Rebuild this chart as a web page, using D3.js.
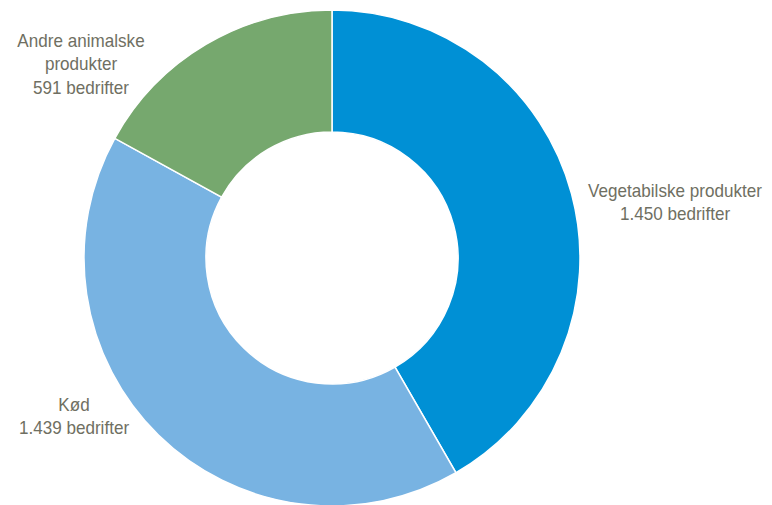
<!DOCTYPE html>
<html>
<head>
<meta charset="utf-8">
<script src="https://cdn.jsdelivr.net/npm/d3@7"></script>
<style>
  body { margin: 0; background: #fff; }
  text { font-family: "Liberation Sans", Arial, sans-serif; fill: #6f6f62; font-size: 18px; }
</style>
</head>
<body>
<div id="wrapper"></div>
<script>
  // data
  const categories = ["Vegetabilske produkter", "Kød", "Andre animalske produkter"]
  const values = [1450, 1439, 591]
  const colors = ["#0090d5", "#78b3e2", "#76a86e"]
  // label lines
  const labelLines = [
    ["Vegetabilske produkter", "1.450 bedrifter"],
    ["Kød", "1.439 bedrifter"],
    ["Andre animalske", "produkter", "591 bedrifter"]
  ]

  const width = 772, height = 505
  const cx = 332, cy = 258
  const outerR = 248, innerR = 126

  const svg = d3.select("#wrapper").append("svg")
      .attr("width", width)
      .attr("height", height)

  const data = categories.map((c, i) => ({ name: c, value: values[i], color: colors[i], lines: labelLines[i] }))

  const pie = d3.pie().sort(null).value(d => d.value)
  const arc = d3.arc().innerRadius(innerR).outerRadius(outerR)

  const g = svg.append("g").attr("transform", `translate(${cx},${cy})`)

  g.selectAll("path")
    .data(pie(data))
    .join("path")
      .attr("d", arc)
      .attr("fill", d => d.data.color)
      .attr("stroke", "#fff")
      .attr("stroke-width", 1.5)

  // labels placed outside the ring (narrow look via scaleX)
  const labelPos = [
    { x: 675, y: 197 },
    { x: 74, y: 411 },
    { x: 81, y: 47 }
  ]
  const lineH = 23.5
  const squeeze = 0.95

  svg.selectAll("g.label")
    .data(data)
    .join("g")
      .attr("class", "label")
      .attr("transform", (d, i) => `translate(${labelPos[i].x},${labelPos[i].y}) scale(${squeeze},1)`)
    .append("text")
      .attr("text-anchor", "middle")
      .each(function(d) {
        d3.select(this).selectAll("tspan")
          .data(d.lines)
          .join("tspan")
            .attr("x", 0)
            .attr("y", (l, j) => j * lineH)
            .text(l => l)
      })
</script>
</body>
</html>
